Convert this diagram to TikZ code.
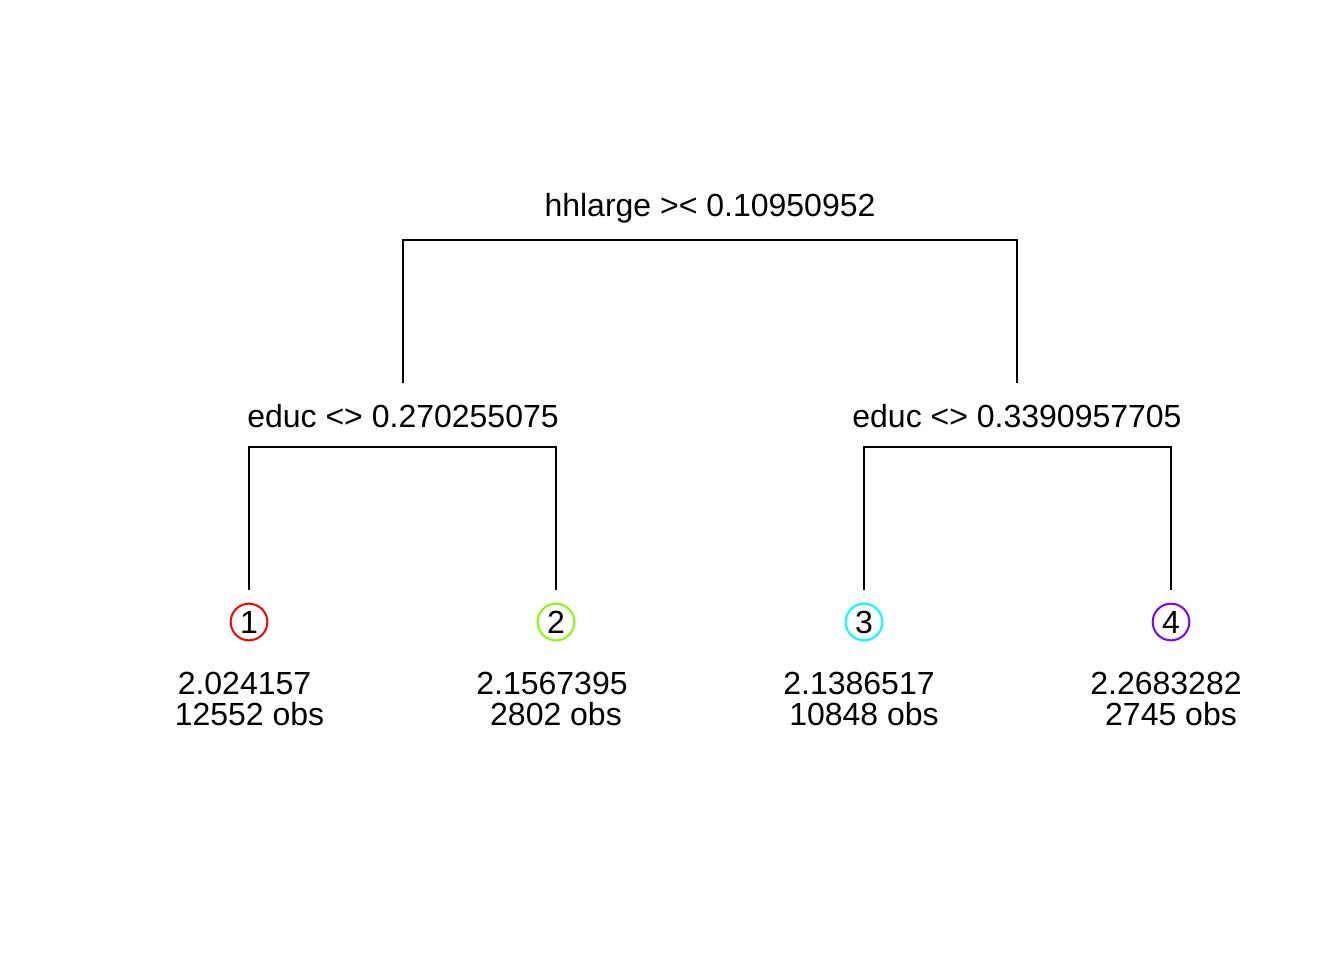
\documentclass[tikz,border=0pt]{standalone}
\usepackage{fontspec}
\setmainfont{Liberation Sans}
\begin{document}
\begin{tikzpicture}[x=0.75pt,y=-0.75pt,
  lab/.style={font=\fontsize{24}{28}\selectfont,inner sep=0pt,anchor=base},
  edge/.style={line width=1.5pt,black},
  leafc/.style={circle,draw,line width=1.5pt,minimum size=27.5pt,inner sep=0pt,font=\fontsize{24}{28}\selectfont}]
\useasboundingbox (0,0) rectangle (1344,960);
% split labels
\node[lab] (root) at (710,216) {hhlarge >< 0.10950952};
\node[lab] (sL) at (403,427) {educ <> 0.270255075};
\node[lab] (sR) at (1017,427) {educ <> 0.3390957705};
% edge anchors
\coordinate (rootbar) at (710,240);
\coordinate (lTop) at (403,383);
\coordinate (rTop) at (1017,383);
\coordinate (lbar) at (403,447);
\coordinate (rbar) at (1017,447);
\coordinate (t1) at (249,590);
\coordinate (t2) at (556,590);
\coordinate (t3) at (864,590);
\coordinate (t4) at (1171,590);
\draw[edge] (lTop) |- (rootbar) -| (rTop);
\draw[edge] (t1) |- (lbar) -| (t2);
\draw[edge] (t3) |- (rbar) -| (t4);
% leaves
\node[leafc,draw={rgb,255:red,255;green,0;blue,0}] (n1) at (249,622) {1};
\node[leafc,draw={rgb,255:red,128;green,255;blue,0}] (n2) at (556,622) {2};
\node[leafc,draw={rgb,255:red,0;green,255;blue,255}] (n3) at (864,622) {3};
\node[leafc,draw={rgb,255:red,128;green,0;blue,255}] (n4) at (1171,622) {4};
% leaf values
\node[lab] (v1) at (244.5,694) {2.024157};
\node[lab] (o1) at (249.5,725) {12552 obs};
\node[lab] (v2) at (552,694) {2.1567395};
\node[lab] (o2) at (556,725) {2802 obs};
\node[lab] (v3) at (859,694) {2.1386517};
\node[lab] (o3) at (864,725) {10848 obs};
\node[lab] (v4) at (1166,694) {2.2683282};
\node[lab] (o4) at (1171,725) {2745 obs};
\end{tikzpicture}
\end{document}
